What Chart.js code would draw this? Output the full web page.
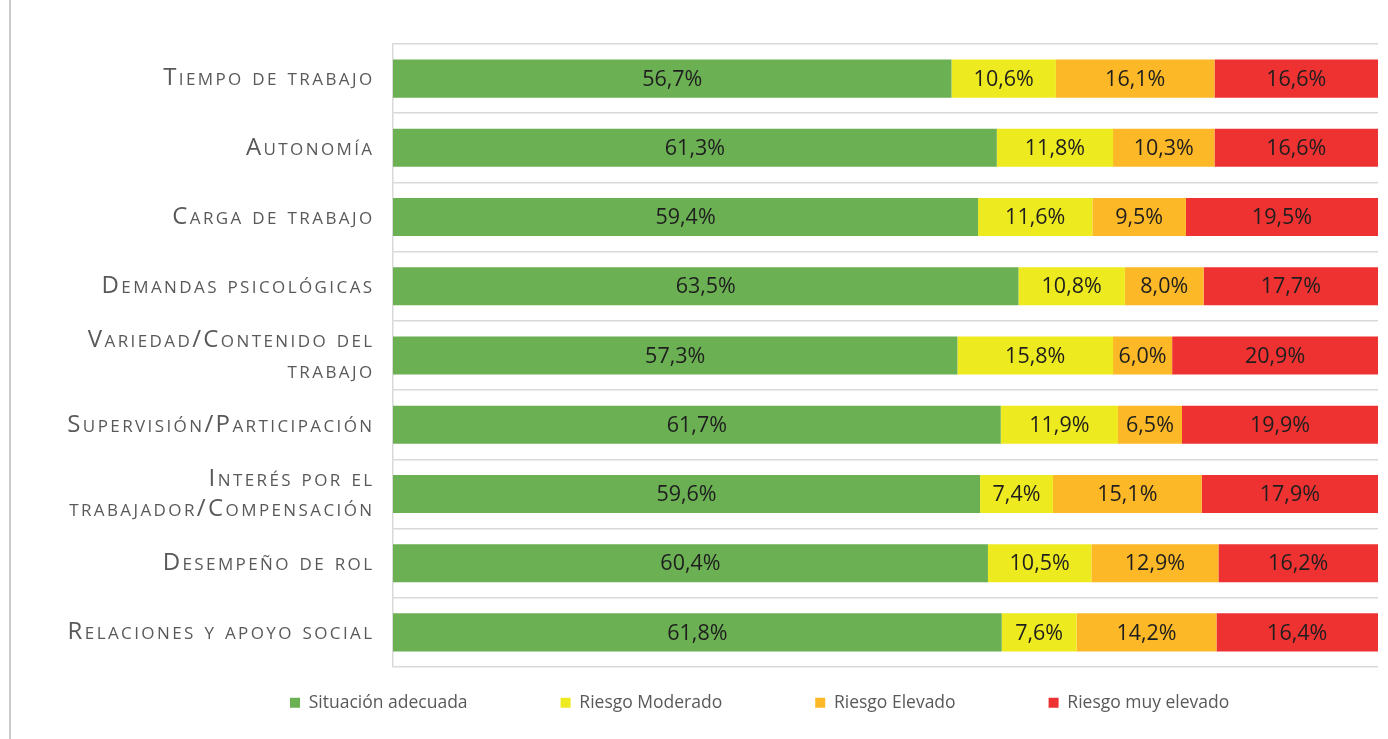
<!DOCTYPE html>
<html>
<head>
<meta charset="utf-8">
<script src="https://cdn.jsdelivr.net/npm/chart.js@4.4.0/dist/chart.umd.min.js"></script>
<style>
    html, body { margin: 0; padding: 0; background: #fff; }
    #wrap { position: relative; width: 1388px; height: 739px; }
    #edge { position: absolute; left: 9px; top: 0; width: 2px; height: 739px; background: #c9c9c9; }
</style>
</head>
<body>
<div id="wrap">
    <canvas id="riesgoChart" width="1388" height="739"></canvas>
    <div id="edge"></div>
</div>
<script>
// Dimensiones psicosociales (eje Y)
const categories = [
    'Tiempo de trabajo',
    'Autonomía',
    'Carga de trabajo',
    'Demandas psicológicas',
    ['Variedad/Contenido del', 'trabajo'],
    'Supervisión/Participación',
    ['Interés por el', 'trabajador/Compensación'],
    'Desempeño de rol',
    'Relaciones y apoyo social'
];

// Porcentajes por nivel de riesgo
const situacionAdecuada = [56.7, 61.3, 59.4, 63.5, 57.3, 61.7, 59.6, 60.4, 61.8];
const riesgoModerado    = [10.6, 11.8, 11.6, 10.8, 15.8, 11.9, 7.4, 10.5, 7.6];
const riesgoElevado     = [16.1, 10.3, 9.5, 8.0, 6.0, 6.5, 15.1, 12.9, 14.2];
const riesgoMuyElevado  = [16.6, 16.6, 19.5, 17.7, 20.9, 19.9, 17.9, 16.2, 16.4];

const seriesNames = ['Situación adecuada', 'Riesgo Moderado', 'Riesgo Elevado', 'Riesgo muy elevado'];
const seriesColors = ['#6bb053', '#eeea20', '#fcb827', '#ee3232'];

const FONT = "'Open Sans', 'Noto Sans', sans-serif";

// Etiquetas dentro de cada segmento ("56,7%")
const barLabels = {
    id: 'barLabels',
    afterDatasetsDraw: function(chart) {
        const ctx = chart.ctx;
        ctx.save();
        ctx.font = '21.5px ' + FONT;
        ctx.fillStyle = '#1e1e1e';
        ctx.textAlign = 'center';
        ctx.textBaseline = 'middle';
        chart.data.datasets.forEach((ds, i) => {
            chart.getDatasetMeta(i).data.forEach((bar, j) => {
                const p = bar.getProps(['x', 'y', 'base'], true);
                const txt = ds.data[j].toFixed(1).replace('.', ',') + '%';
                ctx.fillText(txt, (p.x + p.base) / 2, p.y + 1);
            });
        });
        ctx.restore();
    }
};

// Espaciado de letras en el eje Y y colocación de la leyenda
const layoutTweaks = {
    id: 'layoutTweaks',
    afterLayout: function(chart) {
        const scale = chart.scales.y;
        if (scale && !scale._spaced) {
            const drawLabels = scale.drawLabels.bind(scale);
            scale.drawLabels = function(area) {
                chart.ctx.save();
                chart.ctx.letterSpacing = '2.4px';
                drawLabels(area);
                chart.ctx.restore();
            };
            scale._spaced = true;
        }
        const legend = chart.legend;
        if (legend) {
            const pad = legend.options.labels.padding;
            legend.top = 703 - pad - 9;
            legend.left = 290 - pad;
            legend.bottom = 739;
            legend.right = 1388;
            legend.height = legend.bottom - legend.top;
            legend.width = legend.right - legend.left;
        }
    }
};

const ctx = document.getElementById('riesgoChart').getContext('2d');

const riesgoChart = new Chart(ctx, {
    type: 'bar',
    data: {
        labels: categories,
        datasets: [situacionAdecuada, riesgoModerado, riesgoElevado, riesgoMuyElevado].map((values, i) => ({
            label: seriesNames[i],
            data: values,
            backgroundColor: seriesColors[i],
            borderWidth: 0,
            barPercentage: 1,
            categoryPercentage: 0.55
        }))
    },
    options: {
        indexAxis: 'y',
        responsive: false,
        animation: false,
        layout: {
            padding: { left: 0, right: 10, top: 44, bottom: 32 }
        },
        plugins: {
            legend: {
                position: 'bottom',
                align: 'start',
                maxHeight: 40,
                labels: {
                    boxWidth: 10,
                    boxHeight: 10,
                    padding: 93,
                    color: '#595959',
                    font: { family: FONT, size: 17.5 }
                }
            },
            tooltip: { enabled: false }
        },
        scales: {
            x: {
                stacked: true,
                min: 0,
                max: 100,
                display: false
            },
            y: {
                stacked: true,
                afterFit: function(scale) { scale.width = 393; },
                grid: {
                    offset: true,
                    color: '#d9d9d9',
                    lineWidth: 1.5,
                    drawTicks: false
                },
                border: { color: '#d9d9d9', width: 1.5 },
                ticks: {
                    padding: 18.5,
                    color: '#595959',
                    font: { family: FONT, size: 24, weight: 'small-caps', lineHeight: 1.27 }
                }
            }
        }
    },
    plugins: [barLabels, layoutTweaks]
});
</script>
</body>
</html>
